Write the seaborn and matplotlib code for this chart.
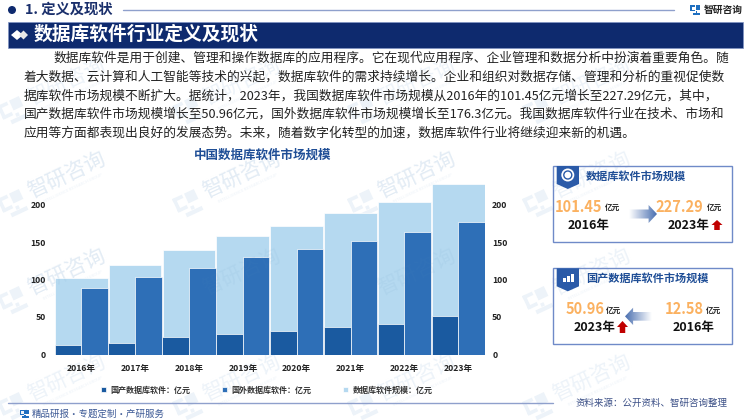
import numpy as np
import pandas as pd
import seaborn as sns
import matplotlib
matplotlib.use("Agg")
import matplotlib.pyplot as plt
from matplotlib.patches import Rectangle, Polygon, Circle
from matplotlib.transforms import Affine2D
from matplotlib.colors import LinearSegmentedColormap

# ---------- data ----------
years = ["2016年", "2017年", "2018年", "2019年", "2020年", "2021年", "2022年", "2023年"]
domestic = [12.58, 16, 23, 27.5, 31, 37, 41, 50.96]
foreign = [88.87, 103, 116, 130, 141, 151.5, 163, 176.3]
total = [101.45, 119, 139, 158, 172, 188.5, 204, 227.29]
y_ticks = [0, 50, 100, 150, 200]
label_domestic = "国产数据库软件：亿元"
label_foreign = "国外数据库软件：亿元"
label_total = "数据库软件规模：亿元"
chart_title = "中国数据库软件市场规模"
section_title = "1. 定义及现状"
banner_title = "数据库软件行业定义及现状"
brand = "智研咨询"
body_lines = [
    "数据库软件是用于创建、管理和操作数据库的应用程序。它在现代应用程序、企业管理和数据分析中扮演着重要角色。随",
    "着大数据、云计算和人工智能等技术的兴起，数据库软件的需求持续增长。企业和组织对数据存储、管理和分析的重视促使数",
    "据库软件市场规模不断扩大。据统计，2023年，我国数据库软件市场规模从2016年的101.45亿元增长至227.29亿元，其中，",
    "国产数据库软件市场规模增长至50.96亿元，国外数据库软件市场规模增长至176.3亿元。我国数据库软件行业在技术、市场和",
    "应用等方面都表现出良好的发展态势。未来，随着数字化转型的加速，数据库软件行业将继续迎来新的机遇。",
]
footer_left = "精品研报·专题定制·产研服务"
footer_right = "资料来源：公开资料、智研咨询整理"

# ---------- setup ----------
sns.set_theme(style="white")
plt.rcParams["font.family"] = ["Noto Sans CJK SC", "DejaVu Sans"]
W, H = 750, 420
NAVY = "#0e2a6e"
BLUE_T = "#1f4e96"
ORANGE = "#fbb160"
WM = "#edf3f9"
C_TOTAL, C_DOM, C_FOR = "#b5d9f0", "#1a5aa0", "#2e6fb7"

fig = plt.figure(figsize=(7.5, 4.2), dpi=100, facecolor="white")

# ---------- chart ----------
x0, x1, ybase, ytop = 54.3, 485.2, 354.5, 174.5
ax = fig.add_axes([x0 / W, 1 - ybase / H, (x1 - x0) / W, (ybase - ytop) / H])
ax.patch.set_alpha(0)
sns.barplot(x=years, y=total, color=C_TOTAL, saturation=1, width=0.98,
            edgecolor="white", linewidth=0.5, label=label_total, ax=ax)
long_df = pd.DataFrame({
    "year": years * 2,
    "value": domestic + foreign,
    "kind": [label_domestic] * len(years) + [label_foreign] * len(years),
})
sns.barplot(data=long_df, x="year", y="value", hue="kind",
            palette={label_domestic: C_DOM, label_foreign: C_FOR}, saturation=1,
            width=0.99, dodge=True, edgecolor="white", linewidth=0.5, ax=ax)
ax.set_xlim(-0.5, 7.5)
ax.set_ylim(0, 240)
ax.set_xlabel("")
ax.set_ylabel("")
ax.set_yticks(y_ticks)
ax.tick_params(axis="y", length=0, labelsize=6.2, labelcolor="#222222", pad=6)
ax.tick_params(axis="x", length=0, labelsize=6.2, labelcolor="#222222", pad=7)
for t in ax.get_xticklabels() + ax.get_yticklabels():
    t.set_fontweight("bold")
sns.despine(ax=ax, left=True, bottom=True)

axr = ax.twinx()
axr.set_ylim(ax.get_ylim())
axr.set_yticks(y_ticks)
axr.tick_params(axis="y", length=0, labelsize=6.2, labelcolor="#222222", pad=5)
for t in axr.get_yticklabels():
    t.set_fontweight("bold")
sns.despine(ax=axr, left=True, bottom=True, right=True)

h, l = ax.get_legend_handles_labels()
lookup = dict(zip(l, h))
order = [label_domestic, label_foreign, label_total]
ax.legend([lookup[k] for k in order], order, ncol=3, frameon=False,
          loc="center", bbox_to_anchor=((266.5 - x0) / (x1 - x0), (ybase - 390) / (ybase - ytop)),
          prop={"size": 5.8, "weight": "bold"}, handlelength=0.65, handleheight=0.65, handletextpad=0.55,
          columnspacing=3.9, labelcolor="#333333", borderpad=0)
ax.set_zorder(3)
axr.set_zorder(3)

# ---------- background page layer ----------
bg = fig.add_axes([0, 0, 1, 1], zorder=1)
bg.set_xlim(0, W)
bg.set_ylim(H, 0)
bg.axis("off")

def logo(a, cx, cy, s, color, angle=0, alpha=1.0, z=1):
    tr = Affine2D().scale(s).rotate_deg(angle).translate(cx, cy) + a.transData
    parts = [(-1, -1, 0.9, 0.3), (-1, -1, 0.3, 1.2), (-1, -0.05, 0.9, 0.3),
             (0.1, -1, 0.9, 0.9), (0.1, 0.2, 0.3, 0.3), (-0.5, 0.55, 1.5, 0.35)]
    for px, py, pw, ph in parts:
        a.add_patch(Rectangle((px, py), pw, ph, transform=tr, fc=color, ec="none", alpha=alpha, zorder=z))

for wy in [82, 175, 272, 378]:
    for wx in [67, 242, 417, 592]:
        bg.text(wx, wy, brand, rotation=25, fontsize=15, color=WM, ha="center", va="center",
                rotation_mode="anchor", zorder=1)
        bg.text(wx + 6, wy + 13, "INTELLIGENCE RESEARCH GROUP", rotation=25, fontsize=3, color=WM,
                ha="center", va="center", rotation_mode="anchor", zorder=1)
        logo(bg, wx - 54, wy + 30, 12, WM, angle=-25)

# ---------- foreground page layer ----------
fg = fig.add_axes([0, 0, 1, 1], zorder=5)
fg.patch.set_alpha(0)
fg.set_xlim(0, W)
fg.set_ylim(H, 0)
fg.axis("off")

# faint watermark over bars
for wy in [175, 272]:
    for wx in [67, 242, 417]:
        fg.text(wx, wy, brand, rotation=25, fontsize=15, color="#5a8fc0", alpha=0.07, ha="center", va="center",
                rotation_mode="anchor")

# header
fg.add_patch(Circle((12, 10), 4, fc=NAVY, ec="none"))
fg.text(25, 10, section_title, fontsize=10.3, fontweight="bold", color="#1a2f6b", ha="left", va="center")
fg.plot([123, 674], [9.5, 9.5], color="#8fa0cc", lw=1)
logo(fg, 695, 10, 5, "#1f6fc0")
fg.text(704, 9.5, brand, fontsize=7, fontweight="bold", color="#222222", ha="left", va="center")

# banner
fg.add_patch(Rectangle((8, 22), 735, 26, fc=NAVY, ec="#7f93c4", lw=0.5))
fg.add_patch(Polygon([[11, 35], [17, 30], [23, 35], [17, 40]], fc="white", ec="none"))
fg.add_patch(Polygon([[19, 35], [23.5, 30.5], [28, 35], [23.5, 39.5]], fc="#e8e8e8", ec="none"))
fg.text(34, 34.5, banner_title, fontsize=13.5, fontweight="bold", color="white", ha="left", va="center")

# paragraph
for i, (line, ly) in enumerate(zip(body_lines, [58.5, 77, 95.7, 114.4, 133])):
    fg.text(54 if i == 0 else 24, ly, line, fontsize=9.15, color="#222222", ha="left", va="center")

fg.text(263, 155, chart_title, fontsize=9, fontweight="bold", color=BLUE_T, ha="center", va="center")

# footer
fg.plot([8, 553], [403, 403], color="#8fa0cc", lw=1)
logo(fg, 24, 414, 4.5, "#1f6fc0")
fg.text(32, 414, footer_left, fontsize=6.8, color="#3d5a96", ha="left", va="center")
fg.text(575, 403, footer_right, fontsize=6.8, color="#3b4f86", ha="left", va="center")

# side panels
grad_l = LinearSegmentedColormap.from_list("g", ["#ffffff", "#4a6fb0"])

def grad_arrow(xa, xb, ya, yb, right=True):
    ym = (ya + yb) / 2
    h4 = (yb - ya) * 0.25
    head = (xb - xa) * 0.3
    if right:
        pts = [[xa, ym - h4], [xb - head, ym - h4], [xb - head, ya], [xb, ym], [xb - head, yb], [xb - head, ym + h4], [xa, ym + h4]]
        g = np.linspace(0, 1, 64).reshape(1, -1)
    else:
        pts = [[xb, ym - h4], [xa + head, ym - h4], [xa + head, ya], [xa, ym], [xa + head, yb], [xa + head, ym + h4], [xb, ym + h4]]
        g = np.linspace(1, 0, 64).reshape(1, -1)
    im = fg.imshow(g, extent=(xa, xb, yb, ya), cmap=grad_l, aspect="auto", zorder=4)
    poly = Polygon(pts, fc="none", ec="none", transform=fg.transData)
    fg.add_patch(poly)
    im.set_clip_path(poly)
    fg.set_xlim(0, W)
    fg.set_ylim(H, 0)

def red_up(cx, top, bottom, half):
    mid = top + (bottom - top) * 0.5
    fg.add_patch(Polygon([[cx, top], [cx + half, mid], [cx + half * 0.5, mid], [cx + half * 0.5, bottom],
                          [cx - half * 0.5, bottom], [cx - half * 0.5, mid], [cx - half, mid]],
                         fc="#c00000", ec="none", zorder=5))

def panel(top, bottom, title):
    fg.add_patch(Rectangle((553.3, top), 179, bottom - top, fc="none", ec="#6f8ac8", lw=1))
    fg.add_patch(Polygon([[556.7, top], [579, top], [579, top + 18], [567.8, top + 23], [556.7, top + 18]],
                         fc="#2a5aa8", ec="none"))
    fg.text(586, top + 10, title, fontsize=8, fontweight="bold", color=BLUE_T, ha="left", va="center")

def big(xv, yv, value, xu):
    fg.text(xv, yv, value, fontsize=10.5, fontweight="bold", color=ORANGE, ha="left", va="center")
    fg.text(xu, yv + 1, "亿元", fontsize=5.5, fontweight="bold", color="#222222", ha="left", va="center")

def year(xv, yv, s):
    fg.text(xv, yv, s, fontsize=9, fontweight="bold", color="#111111", ha="left", va="center")

panel(166, 241.7, "数据库软件市场规模")
fg.add_patch(Circle((567.8, 175), 6.5, fc="white", ec="none"))
fg.add_patch(Circle((567.8, 175), 4, fc="none", ec="#2a5aa8", lw=1))
big(554.7, 206.5, "101.45", 605)
big(655, 206.5, "227.29", 707)
year(568, 225, "2016年")
year(668, 225, "2023年")
grad_arrow(629, 657, 205, 223, right=True)
red_up(717, 220, 230, 5.5)

panel(268.3, 344, "国产数据库软件市场规模")
for bx, bh in [(563, 4), (567, 6), (571, 8)]:
    fg.add_patch(Rectangle((bx, 282 - bh), 2.6, bh, fc="white", ec="none"))
big(566, 309, "50.96", 606)
big(665, 309, "12.58", 706)
year(574, 327.7, "2023年")
year(673, 327.7, "2016年")
grad_arrow(625, 652, 307.7, 325, right=False)
red_up(622.5, 321, 333, 5.5)

fig.savefig("out.png", dpi=100, facecolor="white")
